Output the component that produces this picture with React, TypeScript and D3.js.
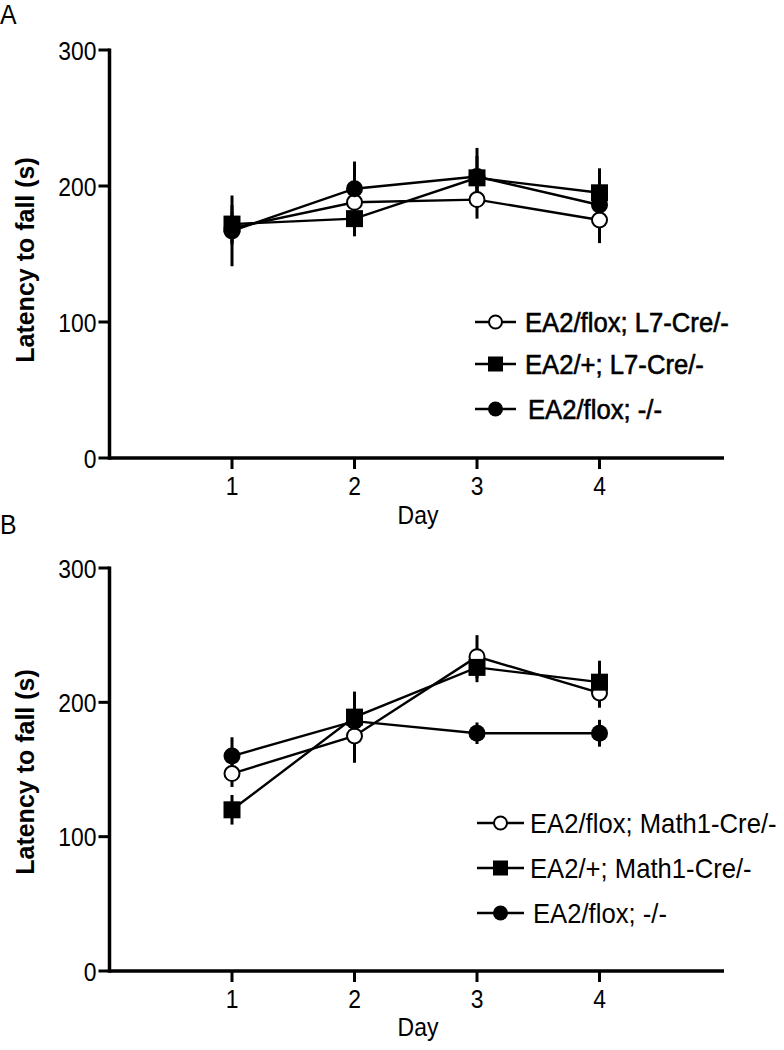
import React from "react";
import * as d3 from "d3";

const days = [1, 2, 3, 4];
const yTicks = [0, 100, 200, 300];

// Panel A
const aOpen = [169, 188, 190, 175];
const aOpenErr = [12, 12, 14, 17];
const aSquare = [172, 176, 206, 195];
const aSquareErr = [14, 13, 22, 18];
const aFilled = [167, 198, 207, 186];
const aFilledErr = [26, 20, 15, 14];
const aLegend = ["EA2/flox; L7-Cre/-", "EA2/+; L7-Cre/-", "EA2/flox; -/-"];

// Panel B
const bOpen = [147, 175, 234, 207];
const bOpenErr = [10, 20, 16, 11];
const bSquare = [120, 189, 226, 215];
const bSquareErr = [11, 19, 11, 16];
const bFilled = [160, 186, 177, 177];
const bFilledErr = [14, 12, 8, 10];
const bLegend = ["EA2/flox; Math1-Cre/-", "EA2/+; Math1-Cre/-", "EA2/flox; -/-"];

type Series = { kind: "open" | "square" | "filled"; values: number[]; errs: number[] };

const FONT = "Liberation Sans, Arial, Helvetica, sans-serif";

function Marker({ kind, x, y, r }: { kind: string; x: number; y: number; r: number }) {
  if (kind === "square")
    return <rect x={x - r} y={y - r} width={2 * r} height={2 * r} fill="#000" />;
  if (kind === "open")
    return <circle cx={x} cy={y} r={r - 1} fill="#fff" stroke="#000" strokeWidth={2} />;
  return <circle cx={x} cy={y} r={r} fill="#000" />;
}

function CText({
  x,
  y,
  anchor,
  size,
  sx,
  children,
  bold,
}: {
  x: number;
  y: number;
  anchor?: string;
  size: number;
  sx: number;
  children: React.ReactNode;
  bold?: number;
}) {
  return (
    <text
      transform={`translate(${x},${y}) scale(${sx},1)`}
      textAnchor={anchor || "start"}
      fontFamily={FONT}
      fontSize={size}
      stroke={bold ? "#000" : "none"}
      strokeWidth={bold || 0}
    >
      {children}
    </text>
  );
}

function Panel({
  letter,
  top,
  series,
  legend,
  legendRows,
  legendX,
  legendBold,
}: {
  letter: string;
  top: { y300: number; y0: number; letterY: number; dayY: number; titleY: number };
  series: Series[];
  legend: string[];
  legendRows: number[];
  legendX: { line0: number; line1: number; text: number };
  legendBold: number;
}) {
  const x = d3.scaleLinear().domain([0, 5]).range([109.5, 722]);
  const y = d3.scaleLinear().domain([0, 300]).range([top.y0, top.y300]);
  const line = d3
    .line<number>()
    .x((_, i) => x(days[i]))
    .y((v) => y(v));
  const drawOrder: Series[] = [
    series.find((s) => s.kind === "open")!,
    series.find((s) => s.kind === "filled")!,
    series.find((s) => s.kind === "square")!,
  ];
  const legendKinds = ["open", "square", "filled"];
  return (
    <g>
      <CText x={0} y={top.letterY} size={27} sx={0.92}>
        {letter}
      </CText>
      {/* axes */}
      <line x1={x(0)} x2={x(0)} y1={y(300) - 1.5} y2={y(0) + 1.75} stroke="#000" strokeWidth={3.5} />
      <line x1={x(0)} x2={724} y1={y(0)} y2={y(0)} stroke="#000" strokeWidth={3.5} />
      {yTicks.map((t) => (
        <g key={"yt" + t}>
          <line x1={x(0) - 11} x2={x(0)} y1={y(t)} y2={y(t)} stroke="#000" strokeWidth={3} />
          <CText x={x(0) - 13} y={y(t) + 9.5} anchor="end" size={26} sx={0.88}>
            {t}
          </CText>
        </g>
      ))}
      {days.map((d) => (
        <g key={"xt" + d}>
          <line x1={x(d)} x2={x(d)} y1={y(0)} y2={y(0) + 11} stroke="#000" strokeWidth={3} />
          <CText x={x(d)} y={y(0) + 37} anchor="middle" size={26} sx={0.88}>
            {d}
          </CText>
        </g>
      ))}
      <CText x={418} y={top.dayY} anchor="middle" size={25} sx={0.92}>
        Day
      </CText>
      <text
        transform={`translate(34,${top.titleY}) rotate(-90)`}
        textAnchor="middle"
        fontFamily={FONT}
        fontSize={25}
        fontWeight="bold"
      >
        Latency to fall (s)
      </text>
      {/* error bars */}
      {drawOrder.map((s) =>
        s.values.map((v, i) => (
          <line
            key={s.kind + "e" + i}
            x1={x(days[i])}
            x2={x(days[i])}
            y1={y(v + s.errs[i])}
            y2={y(v - s.errs[i])}
            stroke="#000"
            strokeWidth={3}
          />
        ))
      )}
      {/* lines */}
      {drawOrder.map((s) => (
        <path key={s.kind + "l"} d={line(s.values) || ""} fill="none" stroke="#000" strokeWidth={2.4} />
      ))}
      {/* markers */}
      {drawOrder.map((s) =>
        s.values.map((v, i) => (
          <Marker key={s.kind + "m" + i} kind={s.kind} x={x(days[i])} y={y(v)} r={8.5} />
        ))
      )}
      {/* legend */}
      {legend.map((label, i) => (
        <g key={"lg" + i}>
          <line
            x1={legendX.line0}
            x2={legendX.line1}
            y1={legendRows[i]}
            y2={legendRows[i]}
            stroke="#000"
            strokeWidth={2.5}
          />
          <Marker
            kind={legendKinds[i]}
            x={(legendX.line0 + legendX.line1) / 2}
            y={legendRows[i]}
            r={7.5}
          />
          <CText
            x={legendX.text + (i === 2 ? 3 : 0)}
            y={legendRows[i] + 10}
            size={27}
            sx={0.95}
            bold={legendBold}
          >
            {label}
          </CText>
        </g>
      ))}
    </g>
  );
}

export default function App() {
  const seriesA: Series[] = [
    { kind: "open", values: aOpen, errs: aOpenErr },
    { kind: "square", values: aSquare, errs: aSquareErr },
    { kind: "filled", values: aFilled, errs: aFilledErr },
  ];
  const seriesB: Series[] = [
    { kind: "open", values: bOpen, errs: bOpenErr },
    { kind: "square", values: bSquare, errs: bSquareErr },
    { kind: "filled", values: bFilled, errs: bFilledErr },
  ];
  return (
    <svg
      width={784}
      height={1050}
      style={{ position: "absolute", left: 0, top: 0, display: "block", background: "#fff" }}
    >
      <rect width={784} height={1050} fill="#fff" />
      <Panel
        letter="A"
        top={{ y300: 50, y0: 458, letterY: 24, dayY: 524, titleY: 260 }}
        series={seriesA}
        legend={aLegend}
        legendRows={[322, 364, 409]}
        legendX={{ line0: 475, line1: 516, text: 525 }}
        legendBold={0.6}
      />
      <Panel
        letter="B"
        top={{ y300: 568, y0: 971, letterY: 534, dayY: 1036, titleY: 772 }}
        series={seriesB}
        legend={bLegend}
        legendRows={[823, 868, 913]}
        legendX={{ line0: 477, line1: 524, text: 530 }}
        legendBold={0}
      />
    </svg>
  );
}
